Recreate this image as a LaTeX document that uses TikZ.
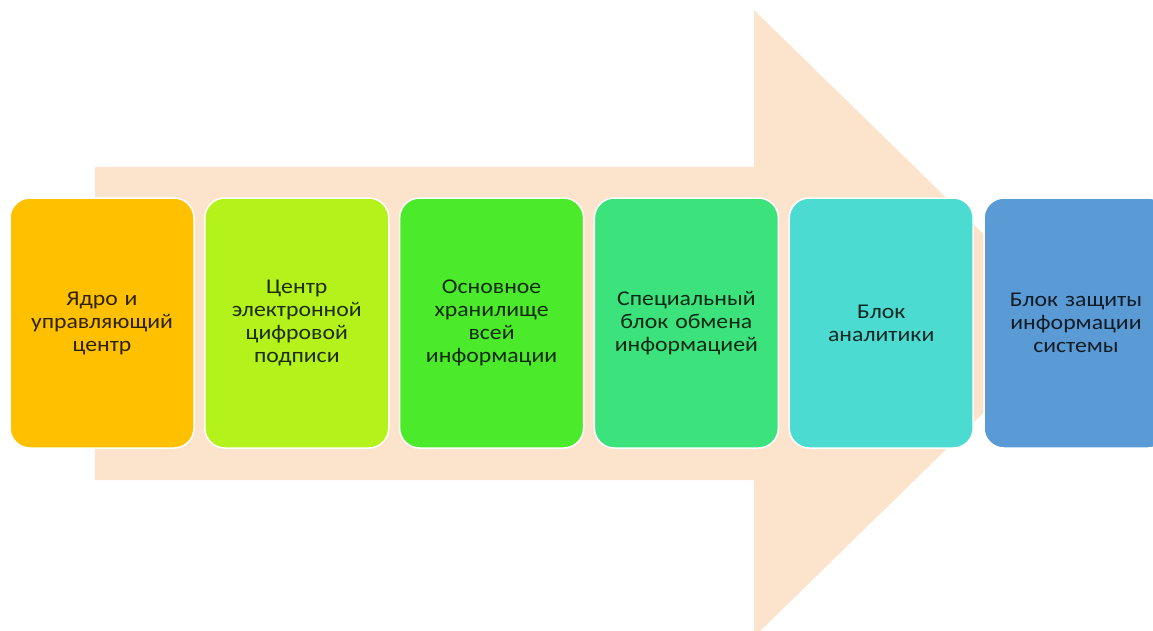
\documentclass[tikz,border=0pt]{standalone}
\usepackage{fontspec}
\setmainfont{Carlito}[FakeStretch=1.13]
\definecolor{arrowc}{HTML}{FCE4CC}
\definecolor{cA}{HTML}{FFC000}
\definecolor{cB}{HTML}{B3F21B}
\definecolor{cC}{HTML}{4BEA2A}
\definecolor{cD}{HTML}{3CE37C}
\definecolor{cE}{HTML}{4CDBD0}
\definecolor{cF}{HTML}{5B9BD5}
\tikzset{
  blockbox/.style={draw=white, line width=1.5pt, rounded corners=20pt,
    minimum width=184pt, minimum height=250pt, inner sep=0pt,
    align=center, text width=176pt,
    font=\fontsize{21}{23}\selectfont},
}
\begin{document}
\begin{tikzpicture}[x=1pt,y=-1pt]
\useasboundingbox (0,0) rectangle (1153,630);
\clip (0,0) rectangle (1153,630);
\fill[arrowc] (95,167) -- (754,167) -- (754,10) -- (1075,323.5) -- (754,637) -- (754,480) -- (95,480) -- cycle;
\node[blockbox, fill=cA, text=cA!18!black] (b1) at (102,323) {Ядро и\\управляющий\\центр};
\node[blockbox, fill=cB, text=cB!18!black] (b2) at (296.8,323) {Центр\\электронной\\цифровой\\подписи};
\node[blockbox, fill=cC, text=cC!18!black] (b3) at (491.6,323) {Основное\\хранилище\\всей\\информации};
\node[blockbox, fill=cD, text=cD!18!black] (b4) at (686.4,323) {Специальный\\блок обмена\\информацией};
\node[blockbox, fill=cE, text=cE!18!black] (b5) at (881.2,323) {Блок\\аналитики};
\node[blockbox, fill=cF, text=cF!18!black] (b6) at (1076,323) {Блок защиты\\информации\\системы};
\end{tikzpicture}
\end{document}
